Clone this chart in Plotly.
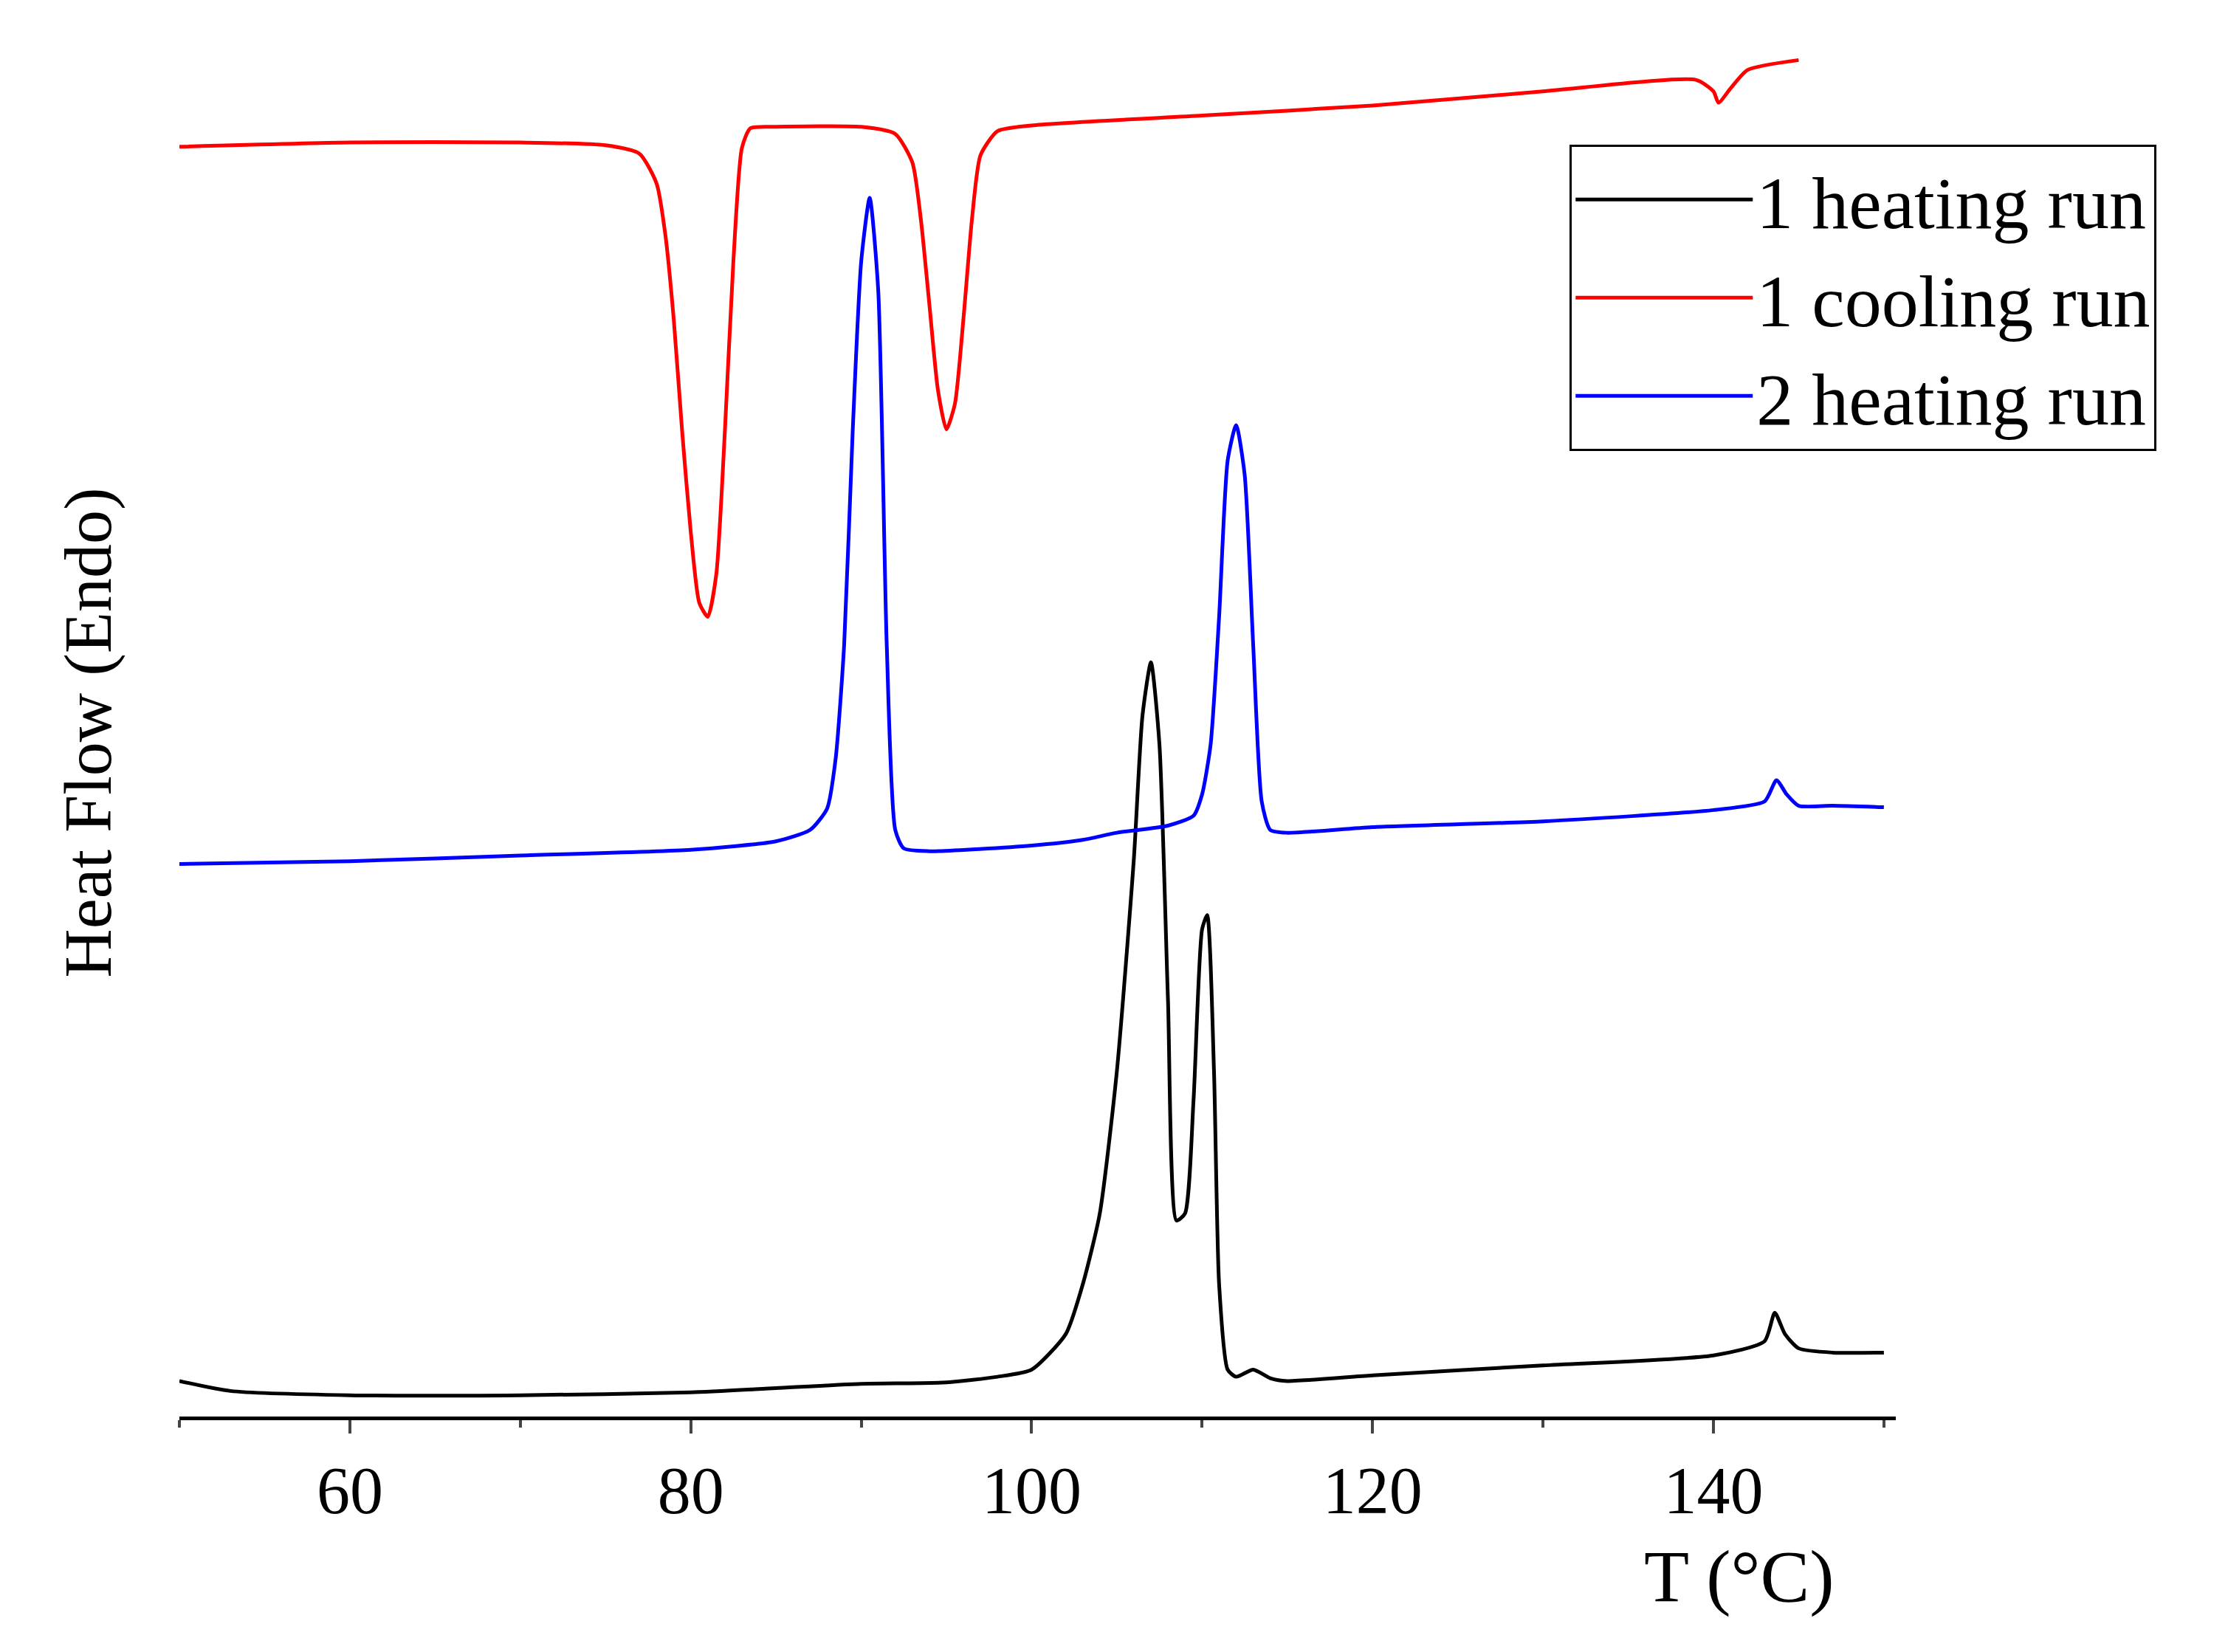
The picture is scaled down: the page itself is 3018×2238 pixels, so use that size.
import plotly.graph_objects as go

# Temperatures (°C) and heat flow (arb. units, plotted as negative pixel-ish offsets)
t_h1 = [50, 53, 60, 70, 80, 85, 90, 95, 98, 100, 102, 103, 104, 105, 106, 106.5, 107, 107.5, 108, 108.5, 109, 109.5, 110, 110.3, 110.7, 111, 111.5, 112, 113, 114, 115, 120, 130, 140, 143, 143.6, 144.2, 145, 147, 150]
hf_h1 = [968, 975, 978, 978, 976, 973, 970, 969, 965, 960, 935, 900, 850, 750, 600, 500, 462, 520, 700, 855, 850, 770, 650, 640, 750, 900, 960, 965, 960, 966, 968, 964, 957, 950, 940, 920, 935, 945, 948, 948]

t_c1 = [50, 60, 70, 75, 77, 78, 78.5, 79, 79.5, 80, 80.5, 81, 81.5, 82, 82.5, 83, 83.5, 85, 90, 92, 93, 93.5, 94, 94.5, 95, 95.5, 96, 96.5, 97, 98, 100, 110, 120, 130, 139, 140, 140.3, 141, 142, 145]
hf_c1 = [99, 96, 96, 98, 104, 125, 160, 220, 300, 370, 420, 430, 400, 300, 180, 100, 86, 85, 85, 90, 110, 150, 210, 270, 298, 280, 220, 150, 105, 88, 84, 77, 70, 60, 52, 60, 68, 58, 45, 38]

t_h2 = [50, 60, 70, 80, 85, 87, 88, 88.5, 89, 89.5, 90, 90.5, 91, 91.5, 92, 92.5, 94, 100, 103, 105, 108, 109.5, 110, 110.5, 111, 111.5, 112, 112.5, 113, 113.5, 114, 115, 120, 130, 140, 143, 143.7, 144.3, 145, 147, 150]
hf_h2 = [604, 602, 598, 594, 588, 580, 565, 530, 450, 300, 180, 135, 200, 450, 580, 593, 595, 591, 587, 582, 577, 570, 555, 520, 430, 320, 295, 330, 450, 560, 580, 582, 578, 574, 566, 560, 545, 555, 563, 563, 564]

font = "Liberation Serif"

fig = go.Figure()
fig.add_trace(go.Scatter(x=t_h1, y=[-v for v in hf_h1], mode="lines", name="1 heating run",
                         line=dict(color="black", width=5, shape="spline", smoothing=0.6)))
fig.add_trace(go.Scatter(x=t_c1, y=[-v for v in hf_c1], mode="lines", name="1 cooling run",
                         line=dict(color="red", width=5, shape="spline", smoothing=0.6)))
fig.add_trace(go.Scatter(x=t_h2, y=[-v for v in hf_h2], mode="lines", name="2 heating run",
                         line=dict(color="blue", width=5, shape="spline", smoothing=0.6)))

fig.update_layout(
    width=3018, height=2238,
    paper_bgcolor="white", plot_bgcolor="white",
    margin=dict(l=235, r=458, t=58, b=327),
    font=dict(family=font, size=80, color="black"),
    legend=dict(x=0.81, y=0.93, xanchor="left", yanchor="top",
                bordercolor="black", borderwidth=3, bgcolor="white",
                itemwidth=240, tracegroupgap=10,
                font=dict(size=100)),
    xaxis=dict(range=[50, 150.7], showgrid=False, zeroline=False,
               showline=True, linecolor="black", linewidth=5,
               tickvals=[60, 80, 100, 120, 140], ticks="outside", ticklen=18, tickwidth=4,
               minor=dict(tickvals=[50, 70, 90, 110, 130, 150], ticks="outside", ticklen=10, tickwidth=4),
               tickfont=dict(size=90)),
    yaxis=dict(range=[-993, -30], showgrid=False, zeroline=False, showline=False,
               showticklabels=False, ticks="",
               title=dict(text="Heat Flow (Endo)", font=dict(size=92), standoff=60)),
    annotations=[dict(text="T (°C)", xref="paper", yref="paper", x=0.909, y=-0.117,
                      xanchor="center", yanchor="middle", showarrow=False, font=dict(size=100))],
)

fig.write_html("out.html")
